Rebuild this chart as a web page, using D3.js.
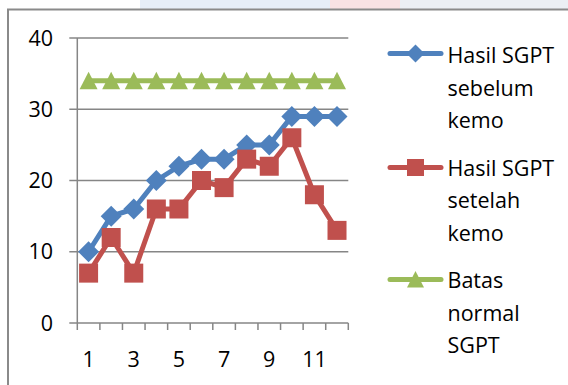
<!DOCTYPE html>
<html><head><meta charset="utf-8">
<script src="https://cdn.jsdelivr.net/npm/d3@7"></script>
<style>html,body{margin:0;padding:0;background:#fff;overflow:hidden}</style>
</head><body><svg id="c" width="568" height="385"></svg>
<script>
const categories = [1,2,3,4,5,6,7,8,9,10,11,12];
const xTickLabels = ["1","3","5","7","9","11"];
const yTicks = [0,10,20,30,40];
const sebelum = [10,15,16,20,22,23,23,25,25,29,29,29];
const setelah = [7,12,7,16,16,20,19,23,22,26,18,13];
const batas = [34,34,34,34,34,34,34,34,34,34,34,34];
const seriesNames = [["Hasil SGPT","sebelum","kemo"],["Hasil SGPT","setelah","kemo"],["Batas","normal","SGPT"]];
const colors = ["#4F81BD","#C0504D","#9BBB59"];
const shapes = ["diamond","square","triangle"];

const svg = d3.select("#c");
const FONT = "'Open Sans', sans-serif";
const FS = 21.5;

// faint background strip above frame
const strip = [[140,330,"#dbe7f5"],[330,400,"#f7d6d8"],[400,568,"#e3e8f0"]];
svg.selectAll("rect.strip").data(strip).enter().append("rect")
  .attr("x",d=>d[0]).attr("y",0).attr("width",d=>d[1]-d[0]).attr("height",9)
  .attr("fill",d=>d[2]).attr("opacity",0.7);

// chart frame
svg.append("rect").attr("x",8).attr("y",9.5).attr("width",570).attr("height",390)
  .attr("fill","#fff").attr("stroke","#8a8a8a").attr("stroke-width",2);

const x = d3.scaleBand().domain(categories).range([77.3,348.3]);
const y = d3.scaleLinear().domain([0,40]).range([323,38]);
const grey = "#868686";

// gridlines + y labels
const g = svg.append("g");
g.selectAll("line.grid").data(yTicks).enter().append("line")
  .attr("x1",69.3).attr("x2",348.3).attr("y1",d=>y(d)).attr("y2",d=>y(d))
  .attr("stroke",grey).attr("stroke-width",1.5);
g.selectAll("text.yl").data(yTicks).enter().append("text")
  .attr("x",53).attr("y",d=>y(d)).attr("dy","0.36em").attr("text-anchor","end")
  .attr("font-family",FONT).attr("font-size",FS).attr("fill","#000").text(d=>d);
// y axis line
g.append("line").attr("x1",77.3).attr("x2",77.3).attr("y1",y(40)).attr("y2",y(0))
  .attr("stroke",grey).attr("stroke-width",1.5);
// x tick marks at category boundaries
const bounds = categories.map(c=>x(c)).concat([x(categories[categories.length-1])+x.bandwidth()]);
g.selectAll("line.xt").data(bounds).enter().append("line")
  .attr("x1",d=>d).attr("x2",d=>d).attr("y1",y(0)).attr("y2",y(0)+7)
  .attr("stroke",grey).attr("stroke-width",1.5);
g.selectAll("text.xl").data(xTickLabels).enter().append("text")
  .attr("x",d=>x(+d)+x.bandwidth()/2).attr("y",359).attr("dy","0.36em").attr("text-anchor","middle")
  .attr("font-family",FONT).attr("font-size",FS).attr("fill","#000").text(d=>d);

function marker(sel, shape, color, s){
  if(shape==="diamond"){
    sel.append("path").attr("d",`M0,${-s}L${s},0L0,${s}L${-s},0Z`).attr("fill",color);
  } else if(shape==="square"){
    sel.append("rect").attr("x",-s).attr("y",-s).attr("width",2*s).attr("height",2*s).attr("fill",color);
  } else {
    sel.append("path").attr("d",`M0,${-s}L${s},${s*0.95}L${-s},${s*0.95}Z`).attr("fill",color);
  }
}

const allSeries = [sebelum, setelah, batas];
const line = d3.line().x((d,i)=>x(categories[i])+x.bandwidth()/2).y(d=>y(d));
const sizes = [10.5, 9.5, 9];
allSeries.forEach((vals,si)=>{
  const sg = svg.append("g");
  sg.append("path").datum(vals).attr("d",line).attr("fill","none")
    .attr("stroke",colors[si]).attr("stroke-width",5).attr("stroke-linejoin","round");
  vals.forEach((v,i)=>{
    const m = sg.append("g").attr("transform",`translate(${x(categories[i])+x.bandwidth()/2},${y(v)})`);
    marker(m, shapes[si], colors[si], sizes[si]);
  });
});

// legend
const legY = [53.5, 167.5, 279.5];
const leg = svg.append("g");
seriesNames.forEach((lines,si)=>{
  const lg = leg.append("g");
  lg.append("line").attr("x1",390).attr("x2",441).attr("y1",legY[si]).attr("y2",legY[si])
    .attr("stroke",colors[si]).attr("stroke-width",5).attr("stroke-linecap","round");
  const m = lg.append("g").attr("transform",`translate(415.5,${legY[si]})`);
  marker(m, shapes[si], colors[si], si===0?9:8.5);
  lines.forEach((t,li)=>{
    lg.append("text").attr("x",447.5).attr("y",[63.3,175.7,288.3][si]+li*32.4)
      .attr("font-family",FONT).attr("font-size",FS).attr("fill","#000").text(t);
  });
});
</script></body></html>
